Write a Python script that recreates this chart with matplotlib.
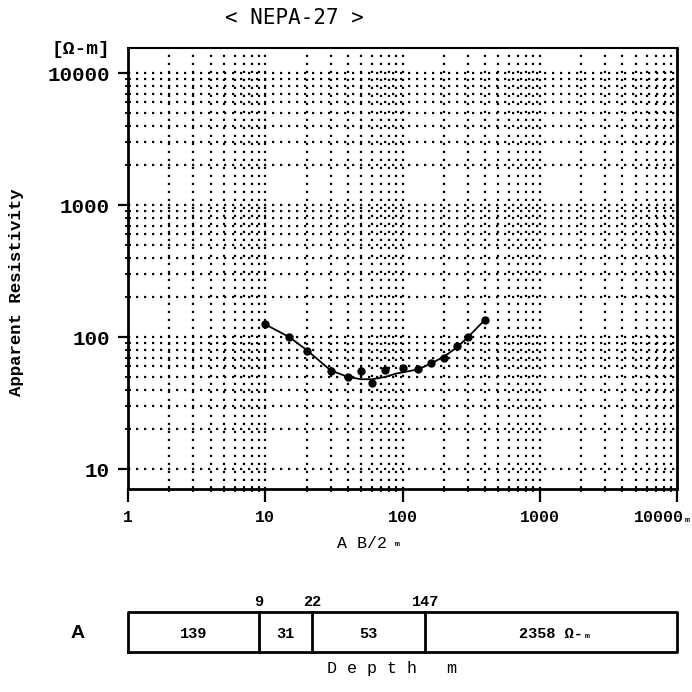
import matplotlib.pyplot as plt
import matplotlib.transforms as mtransforms
import numpy as np
from matplotlib.ticker import FixedLocator, FixedFormatter, NullFormatter

# observed apparent resistivity (Schlumberger sounding NEPA-27)
ab2 = [10, 15, 20, 30, 40, 50, 60, 75, 100, 130, 160, 200, 250, 300, 400]
rho_obs = [125, 100, 79, 55, 50, 55, 45, 56, 58, 57, 64, 70, 85, 100, 136]

# fitted curve
ab2_fit = [10, 15, 20, 30, 40, 50, 60, 75, 90, 130, 160, 200, 250, 300, 400]
rho_fit = [125, 100, 80, 56, 50, 48, 48, 50, 53, 57, 63, 71, 84, 100, 136]

# layer model
layer_depths = [9, 22, 147]
layer_rho = ['139', '31', '53', '2358']

x_major = [1, 10, 100, 1000, 10000]
x_labels = ['1', '10', '100', '1000', '10000']
y_major = [10, 100, 1000, 10000]
y_labels = ['10', '100', '1000', '10000']

MONO = 'Liberation Mono'
W, H = 692, 692


def fx(px):
    return px / W


def fy(py):
    return 1 - py / H


fig = plt.figure(figsize=(6.92, 6.92), dpi=100)
L, R, T, B = 128, 677, 48, 489
ax = fig.add_axes([fx(L), fy(B), (R - L) / W, (B - T) / H])
ax.set_xscale('log')
ax.set_yscale('log')
ax.set_xlim(1, 10000)
ax.set_ylim(10 ** 0.85, 10 ** 4.19)

# dotted grid
dots = (0, (1.0, 2.6))
xgrid = [m * 10 ** d for d in range(4) for m in range(1, 10)][1:]
ygrid = [m * 10 ** d for d in range(1, 4) for m in range(1, 10)] + [10000]
for v in xgrid:
    ax.axvline(v, color='k', lw=1.6, ls=dots, zorder=1)
for v in ygrid:
    ax.axhline(v, color='k', lw=1.6, ls=dots, zorder=1)

ax.plot(ab2_fit, rho_fit, color='k', lw=1.3, zorder=3)
ax.plot(ab2, rho_obs, 'o', color='k', ms=5, zorder=4)

ax.xaxis.set_major_locator(FixedLocator(x_major))
ax.xaxis.set_major_formatter(FixedFormatter(x_labels))
ax.xaxis.set_minor_locator(FixedLocator(xgrid))
ax.xaxis.set_minor_formatter(NullFormatter())
ax.yaxis.set_major_locator(FixedLocator(y_major))
ax.yaxis.set_major_formatter(FixedFormatter(y_labels))
ax.yaxis.set_minor_locator(FixedLocator([v for v in ygrid if v not in y_major]))
ax.yaxis.set_minor_formatter(NullFormatter())

ax.tick_params(axis='x', which='major', direction='out', length=9, width=1.6, pad=6)
ax.tick_params(axis='y', which='major', direction='out', length=7, width=1.6, pad=6)
ax.tick_params(which='minor', direction='inout', length=5, width=1.3)
for lab in ax.get_xticklabels():
    lab.set_fontfamily(MONO)
    lab.set_fontweight('bold')
    lab.set_fontsize(12)
# last x label sits left of its tick in the reference
last = ax.get_xticklabels()[-1]
last.set_transform(last.get_transform() + mtransforms.ScaledTranslation(-18 / 100, 0, fig.dpi_scale_trans))
for lab in ax.get_yticklabels():
    lab.set_fontfamily(MONO)
    lab.set_fontweight('bold')
    lab.set_fontsize(15)
for side in ['left', 'right', 'bottom']:
    ax.spines[side].set_linewidth(2)
ax.spines['top'].set_linewidth(1.5)

fig.text(fx(685), fy(521), 'm', fontsize=6, fontweight='bold', family=MONO, ha='left', va='center')
fig.text(fx(294), fy(18), '< NEPA-27 >', fontsize=15, family='DejaVu Sans Mono', ha='center', va='center')
fig.text(fx(81), fy(50), '[Ω-m]', fontsize=14, fontweight='bold', family=MONO, ha='center', va='center')
fig.text(fx(17), fy(292), 'Apparent Resistivity', fontsize=12.5, fontweight='bold', family=MONO,
         rotation=90, ha='center', va='center')
fig.text(fx(362), fy(543), 'A B/2', fontsize=12, family=MONO, ha='center', va='center')
fig.text(fx(397), fy(545), 'm', fontsize=6, fontweight='bold', family=MONO, ha='center', va='center')

# layer model box on the same log scale
bx = fig.add_axes([fx(L), fy(652), (R - L) / W, 40 / H])
bx.set_xscale('log')
bx.set_xlim(1, 10000)
bx.set_ylim(0, 1)
bx.axis('off')
bx.plot([1, 10000, 10000, 1, 1], [0, 0, 1, 1, 0], color='k', lw=2, clip_on=False)
bounds = [1] + layer_depths + [10000]
for d in layer_depths:
    bx.plot([d, d], [0, 1], color='k', lw=2, clip_on=False)
for d in layer_depths:
    bx.text(d, 1.08, str(d), fontsize=11, fontweight='bold', family=MONO, ha='center', va='bottom')
bx.annotate('m', xy=(layer_depths[-1], 1.08), xytext=(13, 0), textcoords='offset points',
            fontsize=6, fontweight='bold', family=MONO, ha='left', va='bottom')
for i, r in enumerate(layer_rho):
    xc = np.sqrt(bounds[i] * bounds[i + 1])
    txt = r + ' Ω-' if i == len(layer_rho) - 1 else r
    bx.text(xc, 0.45, txt, fontsize=11, fontweight='bold', family=MONO, ha='center', va='center')
bx.annotate('m', xy=(np.sqrt(bounds[-2] * bounds[-1]), 0.45), xytext=(24, -2), textcoords='offset points',
            fontsize=6, fontweight='bold', family=MONO, ha='left', va='center')

fig.text(fx(78), fy(634), 'A', fontsize=14, fontweight='bold', family='Liberation Sans', ha='center', va='center')
fig.text(fx(392), fy(668), 'D e p t h   m', fontsize=12, family=MONO, ha='center', va='center')

fig.savefig('out.png', dpi=100, facecolor='white')
